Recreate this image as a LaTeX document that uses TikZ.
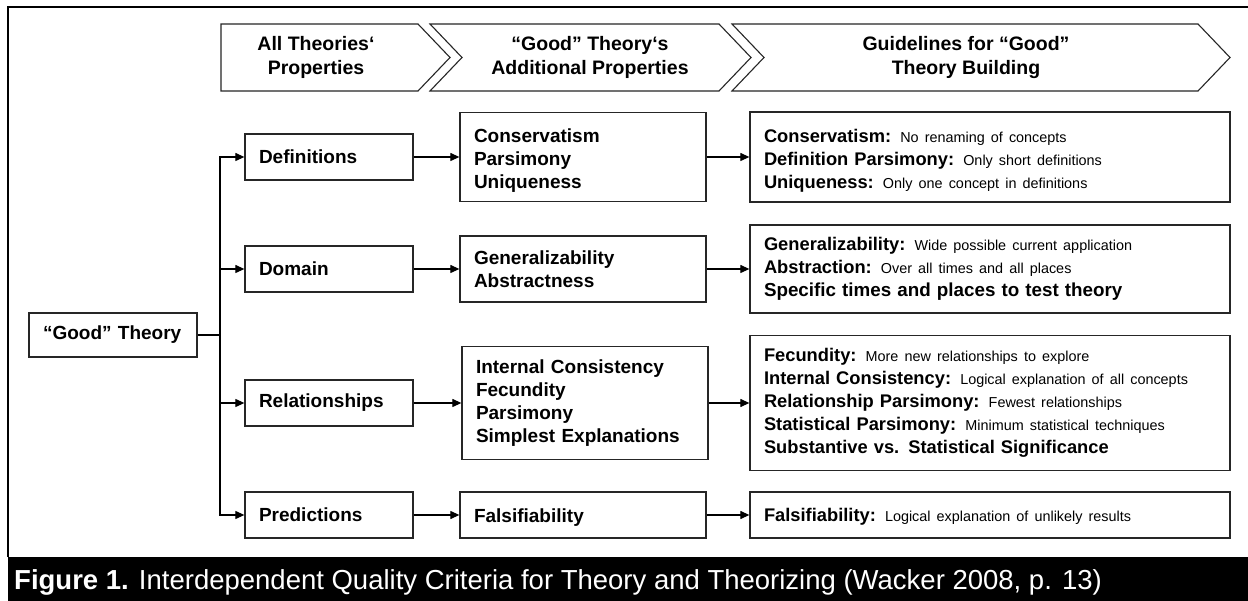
\documentclass[tikz,border=0pt]{standalone}
\usepackage{fontspec}
\setmainfont{Liberation Sans}
\usetikzlibrary{arrows.meta}

\newcommand{\dropby}[2]{\raisebox{-#1}[\height][\depth]{#2}}

\begin{document}
\begin{tikzpicture}[x=1pt,y=-1pt,
  frame/.style={line width=2.4pt, draw=black},
  chev/.style={draw=black!85, line width=1.1pt, fill=white},
  chevtext/.style={align=center, font=\fontsize{19.5}{24}\selectfont\bfseries},
  box/.style={draw=black!85, line width=1.3pt, fill=white, inner xsep=14pt, inner ysep=0pt,
              align=left, font=\fontsize{19}{23}\selectfont\bfseries},
  guide/.style={draw=black!85, line width=1.3pt, fill=white, inner xsep=14pt, inner ysep=0pt,
              align=left, text width=452pt, minimum width=480pt,
              font=\fontsize{18.3}{23}\selectfont\bfseries},
  link/.style={line width=1.2pt, draw=black},
  arr/.style={link, -{Triangle[length=9pt,width=8pt]}}
]
\newcommand{\desc}[1]{{\fontsize{14.4}{23}\selectfont\mdseries #1}}

% canvas and outer frame
\useasboundingbox (0,0) rectangle (1248,601);
\fill[white] (0,0) rectangle (1248,601);
\draw[frame] (8,557) -- (8,7) -- (1248,7);

% header chevrons
\draw[chev] (221,24) -- (418,24) -- (450,57.5) -- (418,91) -- (221,91) -- cycle;
\draw[chev] (430,24) -- (719,24) -- (751,57.5) -- (719,91) -- (430,91) -- (462,57.5) -- cycle;
\draw[chev] (732,24) -- (1198,24) -- (1230,57.5) -- (1198,91) -- (732,91) -- (764,57.5) -- cycle;
\node[chevtext] (h1) at (316,57.5) {All Theories‘\\Properties};
\node[chevtext] (h2) at (590,57.5) {“Good” Theory‘s\\Additional Properties};
\node[chevtext] (h3) at (966,57.5) {Guidelines for “Good”\\Theory Building};

% root
\node[box, text width=140pt, minimum height=44pt] (gt) at (113,335) {“Good” Theory};

% first column: properties of all theories
\node[box, text width=140pt, minimum height=46pt] (def) at (329,157) {Definitions};
\node[box, text width=140pt, minimum height=46pt] (dom) at (329,269) {Domain};
\node[box, text width=140pt, minimum height=46pt] (rel) at (329,403) {Relationships};
\node[box, text width=140pt, minimum height=46pt] (pre) at (329,515) {Predictions};

% second column: additional properties
\node[box, text width=218pt, minimum height=89pt] (p1) at (583,157)
  {\dropby{4pt}{Conservatism}\\\dropby{4pt}{Parsimony}\\\dropby{4pt}{Uniqueness}};
\node[box, text width=218pt, minimum height=66pt] (p2) at (583,269) {Generalizability\\Abstractness};
\node[box, text width=218pt, minimum height=113pt] (p3) at (585,403) {Internal Consistency\\Fecundity\\Parsimony\\Simplest Explanations};
\node[box, text width=218pt, minimum height=46pt] (p4) at (583,515) {\dropby{3pt}{Falsifiability}};

% third column: guidelines
\node[guide, minimum height=90pt] (g1) at (990,157) {\dropby{4pt}{Conservatism: \desc{No renaming of concepts}}\\
  \dropby{4pt}{Definition Parsimony: \desc{Only short definitions}}\\
  \dropby{4pt}{Uniqueness: \desc{Only one concept in definitions}}};
\node[guide, minimum height=88pt] (g2) at (990,269) {Generalizability: \desc{Wide possible current application}\\
  Abstraction: \desc{Over all times and all places}\\
  {\fontsize{18.8}{23}\selectfont Specific times and places to test theory}};
\node[guide, minimum height=135pt] (g3) at (990,403) {Fecundity: \desc{More new relationships to explore}\\
  Internal Consistency: \desc{Logical explanation of all concepts}\\
  Relationship Parsimony: \desc{Fewest relationships}\\
  Statistical Parsimony: \desc{Minimum statistical techniques}\\
  Substantive vs. Statistical Significance};
\node[guide, minimum height=46pt] (g4) at (990,515) {\dropby{2pt}{Falsifiability: \desc{Logical explanation of unlikely results}}};

% branching from the root
\coordinate (trunk) at (220,335);
\draw[link] (gt.east) -- (trunk);
\draw[arr] (trunk) |- (def.west);
\draw[arr] (trunk) |- (dom.west);
\draw[arr] (trunk) |- (rel.west);
\draw[arr] (trunk) |- (pre.west);

% row connectors
\draw[arr] (def.east) -- (p1.west |- def.east);
\draw[arr] (dom.east) -- (p2.west |- dom.east);
\draw[arr] (rel.east) -- (p3.west |- rel.east);
\draw[arr] (pre.east) -- (p4.west |- pre.east);
\draw[arr] (p1.east |- def.east) -- (g1.west |- def.east);
\draw[arr] (p2.east |- dom.east) -- (g2.west |- dom.east);
\draw[arr] (p3.east |- rel.east) -- (g3.west |- rel.east);
\draw[arr] (p4.east |- pre.east) -- (g4.west |- pre.east);

% caption bar
\fill[black] (8,557) rectangle (1248,601);
\node[anchor=base west, text=white, inner sep=0pt, font=\fontsize{27.5}{30}\selectfont] (cap) at (14,589)
  {\textbf{Figure 1.} Interdependent Quality Criteria for Theory and Theorizing (Wacker 2008, p. 13)};
\end{tikzpicture}
\end{document}
